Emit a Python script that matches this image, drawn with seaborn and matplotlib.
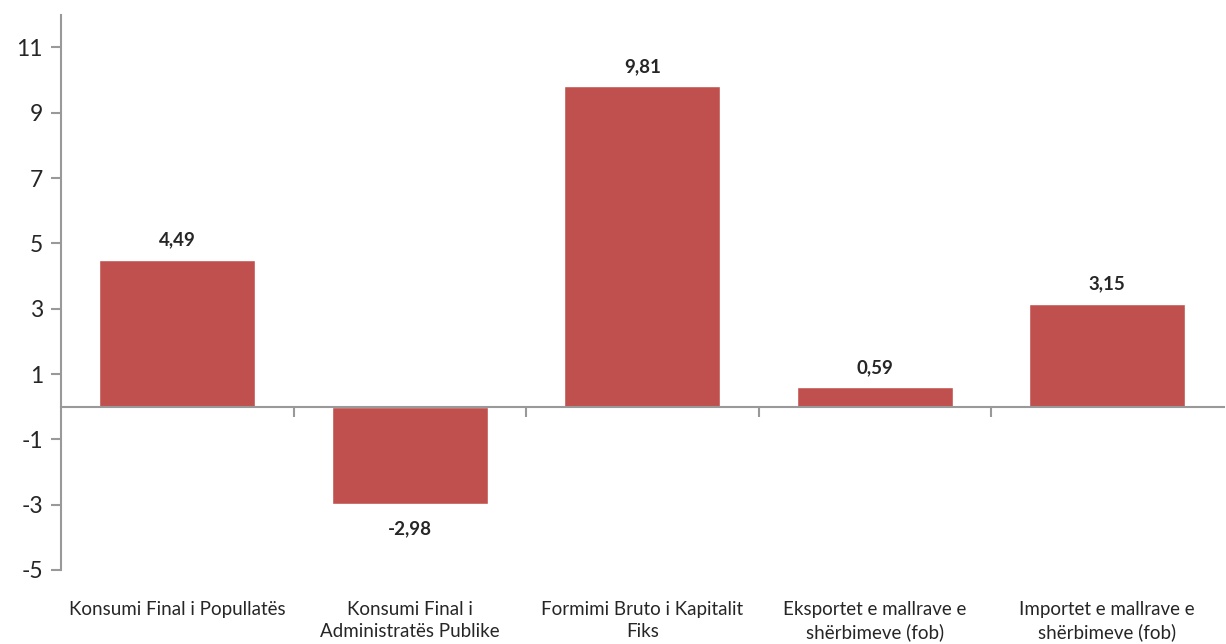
import matplotlib
matplotlib.use("Agg")
import matplotlib.pyplot as plt
import matplotlib.transforms as mtransforms
import seaborn as sns
import pandas as pd

sns.set_style("white")
plt.rcParams['font.family'] = ['Lato', 'DejaVu Sans']

# data
categories = ["Konsumi Final i Popullatës",
              "Konsumi Final i\nAdministratës Publike",
              "Formimi Bruto i Kapitalit\nFiks",
              "Eksportet e mallrave e\nshërbimeve (fob)",
              "Importet e mallrave e\nshërbimeve (fob)"]
values = [4.49, -2.98, 9.81, 0.59, 3.15]
value_labels = ["4,49", "-2,98", "9,81", "0,59", "3,15"]
y_ticks = [-5, -3, -1, 1, 3, 5, 7, 9, 11]

df = pd.DataFrame({"cat": categories, "val": values})

fig = plt.figure(figsize=(12.26, 6.44), dpi=100)
ax = fig.add_axes([0.0498, 0.115, 0.9482, 0.862])

sns.barplot(data=df, x="cat", y="val", color="#C0504D", saturation=1,
            width=0.67, ax=ax)

ax.set_ylim(-5, 12)
ax.set_xlim(-0.5, 4.5)
ax.set_yticks(y_ticks)
ax.set_yticklabels([str(t) for t in y_ticks], fontsize=16.5)
ax.set_xlabel("")
ax.set_ylabel("")

# spines
ax.spines['top'].set_visible(False)
ax.spines['right'].set_visible(False)
ax.spines['left'].set_color("#999999")
ax.spines['left'].set_linewidth(1.5)
ax.spines['bottom'].set_position(('data', 0))
ax.spines['bottom'].set_color("#999999")
ax.spines['bottom'].set_linewidth(1.5)

ax.tick_params(axis='y', direction='out', length=7, width=1.5, color="#999999",
               left=True, pad=6)
ax.set_xticks([0.5, 1.5, 2.5, 3.5])
ax.set_xticklabels([])
ax.tick_params(axis='x', direction='out', length=7, width=1.5, color="#999999",
               bottom=True)

# category labels below the plot
trans = mtransforms.blended_transform_factory(ax.transData, ax.transAxes)
for i, c in enumerate(categories):
    ax.text(i, -0.056, c, transform=trans, ha='center', va='top',
            fontsize=13.5, linespacing=1.38)

# value labels
for i, (v, lab) in enumerate(zip(values, value_labels)):
    off = 20 if v >= 0 else -25
    ax.annotate(lab, (i, v), xytext=(0, off), textcoords='offset pixels',
                ha='center', va='center', fontsize=13.5, fontweight='bold')

fig.savefig("out.png", dpi=100)
